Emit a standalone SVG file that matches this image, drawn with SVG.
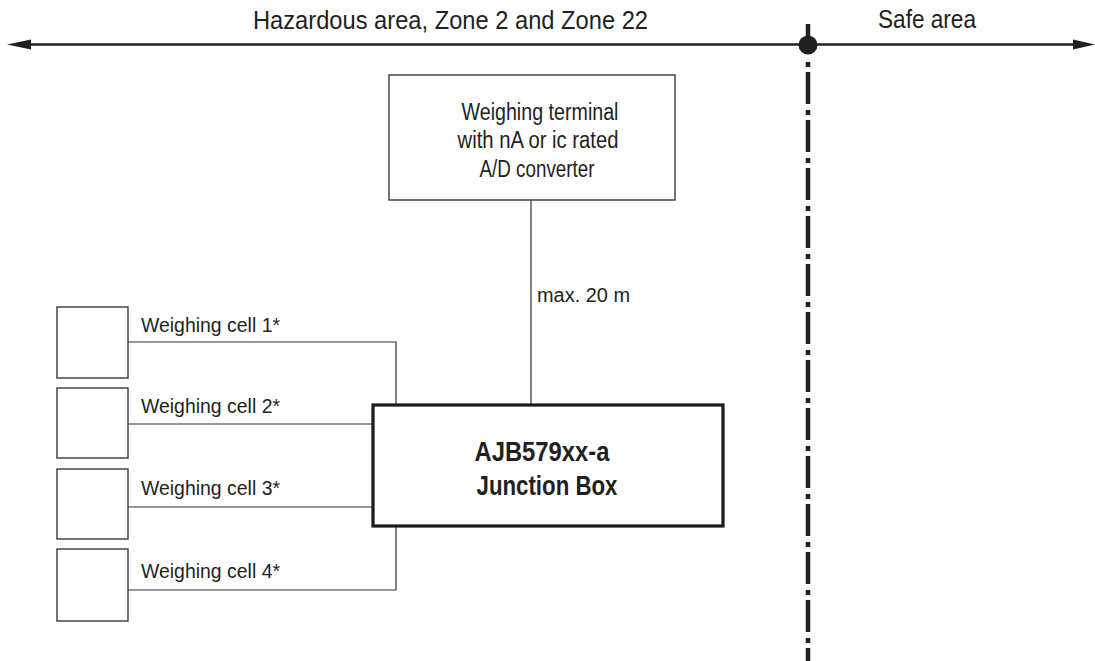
<svg xmlns="http://www.w3.org/2000/svg" width="1095" height="661" viewBox="0 0 1095 661">
<style>
text{font-family:"Liberation Sans",Arial,sans-serif;fill:#231f20}
.box{fill:#fff;stroke:#3a3a3a;stroke-width:1.4}
.jb{fill:#fff;stroke:#1a1a1a;stroke-width:3.2}
.wire{fill:none;stroke:#333;stroke-width:1.2}
.t21{font-size:23px;text-anchor:middle}
.t19{font-size:20px}
.t24{font-size:25px}
.bold{font-size:27px;font-weight:bold;text-anchor:middle}
</style>
<rect width="1095" height="661" fill="#fff"/>
<g id="zones">
<line x1="28" y1="44.5" x2="1076" y2="44.5" stroke="#231f20" stroke-width="2.6"/>
<polygon points="7,44.5 31,39.5 31,49.5" fill="#231f20"/>
<polygon points="1095,44.5 1073,39.5 1073,49.5" fill="#231f20"/>
<line x1="808" y1="24" x2="808" y2="46" stroke="#231f20" stroke-width="4.5"/>
<line x1="808" y1="62" x2="808" y2="661" stroke="#231f20" stroke-width="4.5" stroke-dasharray="5 5 32 6"/>
<circle cx="808" cy="45" r="9.5" fill="#231f20"/>
<text class="t24" x="253" y="29" textLength="395" lengthAdjust="spacingAndGlyphs">Hazardous area, Zone 2 and Zone 22</text>
<text class="t24" x="878" y="28" textLength="98" lengthAdjust="spacingAndGlyphs">Safe area</text>
</g>
<g id="connectors">
<line class="wire" x1="531" y1="200" x2="531" y2="405"/>
<polyline class="wire" points="128,342 396,342 396,405"/>
<line class="wire" x1="128" y1="424" x2="373" y2="424"/>
<line class="wire" x1="128" y1="507" x2="373" y2="507"/>
<polyline class="wire" points="128,590 396,590 396,526"/>
<text class="t19" x="537" y="302" textLength="93" lengthAdjust="spacingAndGlyphs">max. 20 m</text>
<text class="t19" x="141" y="332" textLength="139" lengthAdjust="spacingAndGlyphs">Weighing cell 1*</text>
<text class="t19" x="141" y="413" textLength="139" lengthAdjust="spacingAndGlyphs">Weighing cell 2*</text>
<text class="t19" x="141" y="495" textLength="139" lengthAdjust="spacingAndGlyphs">Weighing cell 3*</text>
<text class="t19" x="141" y="578" textLength="139" lengthAdjust="spacingAndGlyphs">Weighing cell 4*</text>
</g>
<g id="terminal">
<rect class="box" x="389" y="75" width="286" height="125"/>
<text class="t21" x="540" y="120" textLength="157" lengthAdjust="spacingAndGlyphs">Weighing terminal</text>
<text class="t21" x="538" y="148" textLength="161" lengthAdjust="spacingAndGlyphs">with nA or ic rated</text>
<text class="t21" x="537" y="177" textLength="115" lengthAdjust="spacingAndGlyphs">A/D converter</text>
</g>
<g id="junction-box">
<rect class="jb" x="373" y="405" width="350" height="121"/>
<text class="bold" x="542" y="461" textLength="135" lengthAdjust="spacingAndGlyphs">AJB579xx-a</text>
<text class="bold" x="547" y="495" textLength="141" lengthAdjust="spacingAndGlyphs">Junction Box</text>
</g>
<g id="cell1"><rect class="box" x="57" y="307" width="71" height="71"/></g>
<g id="cell2"><rect class="box" x="57" y="388" width="71" height="70"/></g>
<g id="cell3"><rect class="box" x="57" y="469" width="71" height="70"/></g>
<g id="cell4"><rect class="box" x="57" y="549" width="71" height="72"/></g>
</svg>
